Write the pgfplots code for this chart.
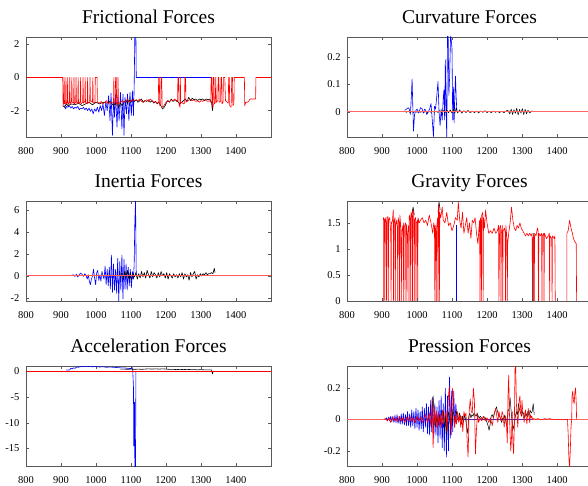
\documentclass[border=0pt]{standalone}
\usepackage{fontspec}
\setmainfont{Liberation Serif}
\usepackage{pgfplots}
\pgfplotsset{compat=1.18}
\pgfplotsset{
  panel/.style={
    scale only axis, width=245pt, height=100pt,
    anchor=south west,
    xmin=800, xmax=1500,
    xtick={800,900,...,1400},
    tick pos=both, tick align=inside,
    major tick length=3pt,
    axis line style={black!65, line width=0.8pt},
    every tick/.style={black!65},
    scaled ticks=false,
    /pgf/number format/assume math mode=true,
    /pgf/number format/1000 sep={},
    tick label style={font=\fontsize{10.5}{12}\selectfont},
    xticklabel style={yshift=-7pt},
    yticklabel style={xshift=-3.2pt},
    title style={font=\fontsize{19.5}{22}\selectfont, anchor=base, yshift=7.5pt},
    every axis plot/.append style={line width=0.6pt, line join=round},
  },
  rightpanel/.style={panel, yticklabel style={xshift=0.3pt}},
}
\begin{document}
\begin{tikzpicture}[x=1pt,y=1pt]
% ---------------- Frictional
\begin{axis}[panel, at={(26pt,348pt)}, ymin=-3.6, ymax=2.45, ytick={-2,0,2}, title={Frictional Forces}]
\addplot[blue] coordinates {(910,-1.7)(913,-1.9)(916,-1.75)(920,-1.8)(924,-1.7)(928,-1.85)(932,-1.75)(936,-1.9)(940,-1.8)(944,-1.85)(948,-1.75)(952,-1.95)(956,-1.85)(960,-1.9)(964,-1.8)(968,-1.95)(972,-1.85)(976,-2.0)(980,-1.85)(984,-2.05)(988,-1.9)(992,-2.2)(996,-1.9)(1000,-2.05)(1004,-1.8)(1008,-2.1)(1012,-1.7)(1016,-2.0)(1020,-1.6)(1024,-2.3)(1028,-1.5)(1032,-2.0)(1036,-1.1)(1040,-2.6)(1043,-0.95)(1047,-3.5)(1050,-1.3)(1053,-2.4)(1056,-1.0)(1060,-3.0)(1063,-1.2)(1066,-2.6)(1070,-0.9)(1074,-3.1)(1077,-1.0)(1080,-3.5)(1083,-1.2)(1087,-2.2)(1090,-1.0)(1094,-2.6)(1097,-0.9)(1101,-2.3)(1104,-0.8)(1107,-2.3)(1109,-0.6)(1111,2.6)(1114,2.6)(1115,0)(1330,0)};
\addplot[black] coordinates {(905,-1.7)(910,-1.8)(915,-1.6)(920,-1.7)(930,-1.6)(940,-1.65)(950,-1.55)(960,-1.7)(970,-1.6)(980,-1.5)(990,-1.65)(1000,-1.5)(1010,-1.6)(1020,-1.5)(1030,-1.55)(1040,-1.45)(1050,-1.7)(1060,-1.5)(1065,-1.8)(1070,-1.55)(1075,-1.7)(1080,-1.5)(1085,-1.4)(1090,-1.55)(1095,-1.35)(1100,-1.5)(1105,-1.3)(1110,-1.45)(1115,-1.35)(1120,-1.5)(1125,-1.4)(1130,-1.3)(1135,-1.5)(1140,-1.4)(1145,-1.45)(1150,-1.35)(1155,-1.5)(1160,-1.4)(1165,-1.55)(1170,-1.45)(1175,-1.6)(1180,-1.5)(1185,-1.7)(1190,-1.9)(1195,-1.8)(1200,-1.6)(1205,-1.4)(1210,-1.5)(1215,-1.3)(1220,-1.45)(1225,-1.35)(1230,-1.4)(1235,-1.5)(1240,-1.6)(1245,-1.5)(1250,-1.4)(1255,-1.3)(1260,-1.45)(1265,-1.2)(1270,-1.4)(1275,-1.25)(1280,-1.35)(1285,-1.3)(1290,-1.4)(1295,-1.3)(1300,-1.35)(1305,-1.3)(1310,-1.4)(1315,-1.3)(1320,-1.35)(1325,-1.3)(1330,-1.5)(1333,-2.0)(1335,-1.6)};
\addplot[red] coordinates {(800,0)(905,0)(906,-1.7)(908,-1.5)(909,0)(910,-1.6)(913,-1.55)(914,0)(915,-1.6)(918,-1.5)(919,0)(920,-1.65)(924,-1.5)(925,0)(926,-1.6)(930,-1.45)(931,0)(932,-1.5)(936,-1.55)(937,0)(938,-1.6)(942,-1.5)(943,0)(944,-1.45)(948,-1.6)(949,0)(950,-1.55)(955,-1.5)(956,0)(957,-1.6)(962,-1.5)(963,0)(964,-1.55)(968,-1.45)(969,0)(970,-1.5)(975,-1.6)(976,0)(977,-1.55)(982,-1.5)(983,0)(984,-1.4)(990,-1.5)(991,0)(992,-1.55)(997,-1.5)(998,0)(1003,0)(1004,-1.5)(1010,-1.55)(1015,-1.45)(1020,-1.6)(1025,-1.5)(1030,-1.4)(1035,-1.6)(1040,-1.5)(1045,-1.55)(1050,-1.5)(1051,0)(1052,-1.6)(1055,-1.5)(1056,0)(1058,0)(1059,-1.7)(1062,-1.5)(1063,0)(1064,-1.6)(1070,-1.5)(1075,-1.4)(1080,-1.5)(1085,-1.45)(1090,-1.3)(1095,-1.5)(1100,-1.4)(1105,-1.35)(1110,-1.4)(1115,-1.35)(1120,-1.4)(1125,-1.3)(1130,-1.45)(1135,-1.5)(1140,-1.4)(1145,-1.35)(1150,-1.45)(1155,-1.3)(1160,-1.4)(1165,-1.5)(1170,-1.45)(1175,-1.55)(1178,-1.5)(1179,0)(1181,0)(1182,-1.7)(1185,-1.6)(1186,0)(1188,0)(1189,-1.8)(1193,-1.75)(1197,-1.6)(1200,-1.5)(1205,-1.4)(1210,-1.45)(1215,-1.35)(1220,-1.4)(1225,-1.3)(1230,-1.45)(1233,-1.4)(1234,0)(1236,0)(1237,-1.6)(1240,-1.8)(1241,0)(1242,-1.55)(1245,-1.5)(1250,-1.6)(1253,-1.55)(1254,0)(1256,0)(1257,-1.5)(1262,-1.4)(1268,-1.35)(1275,-1.4)(1280,-1.35)(1285,-1.45)(1290,-1.4)(1295,-1.5)(1300,-1.4)(1305,-1.45)(1310,-1.35)(1315,-1.4)(1320,-1.45)(1325,-1.4)(1328,-1.5)(1329,0)(1331,0)(1332,-1.8)(1334,-1.6)(1335,0)(1337,0)(1338,-1.6)(1341,-1.5)(1342,0)(1344,-1.5)(1348,-1.4)(1349,0)(1351,0)(1352,-1.5)(1356,-1.45)(1357,0)(1359,0)(1360,-1.6)(1363,-1.5)(1364,0)(1368,0)(1370,-1.4)(1375,-1.5)(1378,-1.55)(1379,0)(1381,0)(1382,-1.7)(1386,-1.8)(1388,0)(1390,0)(1391,-1.7)(1394,-1.6)(1395,0)(1424,0)(1425,-1.7)(1428,-1.5)(1432,-1.5)(1436,-1.45)(1440,-1.3)(1445,-1.3)(1450,-1.3)(1456,-1.3)(1457,0)(1500,0)};
\end{axis}
% ---------------- Curvature
\begin{axis}[rightpanel, at={(347pt,348pt)}, ymin=-0.092, ymax=0.273, ytick={0,0.1,0.2}, title={Curvature Forces}]
\addplot[blue] coordinates {(965,0.005)(970,0.01)(975,0.015)(978,0.01)(981,-0.01)(984,0.06)(986,0.12)(988,0.02)(990,-0.07)(993,-0.01)(997,0.005)(1000,0.01)(1005,-0.005)(1010,0.015)(1015,0.01)(1018,-0.005)(1022,0.01)(1025,0.005)(1028,-0.01)(1032,0.0)(1036,0.01)(1040,0.03)(1043,-0.02)(1047,-0.09)(1050,0.02)(1053,0.01)(1056,0.05)(1060,0.11)(1063,0.0)(1066,-0.05)(1069,0.01)(1072,-0.03)(1075,0.05)(1077,0.08)(1079,-0.03)(1081,0.19)(1083,0.02)(1085,-0.095)(1087,0.28)(1089,0.28)(1091,0.06)(1093,0.12)(1096,0.28)(1098,0.26)(1100,0.23)(1102,-0.03)(1104,0.09)(1106,-0.04)(1108,0.06)(1110,0.13)(1112,0.05)(1114,0.0)};
\addplot[black, line width=0.5pt] coordinates {(960,0)(965,0.002)(970,-0.002)(975,0.003)(980,-0.002)(985,0.002)(990,-0.003)(995,0.002)(1000,-0.002)(1005,0.003)(1010,-0.002)(1015,0.002)(1020,-0.002)(1025,0.002)(1030,-0.003)(1035,0.002)(1040,-0.002)(1045,0.003)(1050,-0.002)(1055,0.003)(1060,-0.003)(1065,0.004)(1070,-0.003)(1075,0.005)(1080,-0.004)(1085,0.008)(1090,-0.004)(1095,0.007)(1100,-0.005)(1105,0.01)(1108,-0.006)(1112,0.014)(1116,-0.004)(1122,0.007)(1128,-0.005)(1134,0.004)(1140,-0.003)(1146,0.005)(1152,-0.004)(1158,0.003)(1164,-0.003)(1170,0.003)(1176,-0.004)(1182,0.003)(1188,-0.002)(1194,0.004)(1200,-0.003)(1206,0.002)(1212,-0.003)(1218,0.003)(1224,-0.002)(1230,0.002)(1236,-0.003)(1242,0.003)(1248,-0.004)(1254,0.003)(1260,0.005)(1265,-0.008)(1269,0.01)(1273,-0.01)(1277,0.008)(1281,-0.006)(1285,0.013)(1289,-0.012)(1293,0.009)(1297,-0.005)(1301,0.012)(1305,-0.01)(1309,0.009)(1313,-0.008)(1317,0.006)(1322,-0.004)(1328,0.003)(1335,0.0)};
\addplot[red!60, line width=1pt] coordinates {(800,0)(1500,0)};
\end{axis}
% ---------------- Inertia
\begin{axis}[panel, at={(26pt,184pt)}, ymin=-2.3, ymax=6.85, ytick={-2,0,2,4,6}, title={Inertia Forces}]
\addplot[blue] coordinates {(930,0.05)(935,0.1)(940,-0.05)(944,0.15)(948,-0.1)(952,0.1)(956,0.25)(960,0.15)(964,-0.05)(968,0.2)(972,0.0)(975,-0.3)(978,0.1)(981,-0.5)(984,-0.8)(987,-0.3)(990,0.0)(993,0.6)(996,-0.2)(999,-0.8)(1002,0.3)(1005,0.5)(1008,-0.4)(1011,0.1)(1014,-0.5)(1017,0.4)(1020,0.0)(1023,-0.3)(1026,0.9)(1029,-0.8)(1032,0.6)(1035,-0.9)(1038,0.8)(1041,-1.2)(1044,1.9)(1047,-1.5)(1050,1.1)(1053,-1.3)(1056,0.6)(1059,-1.6)(1062,1.6)(1065,-2.3)(1068,1.3)(1071,-1.3)(1074,1.9)(1077,-2.1)(1080,1.5)(1083,-1.2)(1086,1.1)(1089,-1.3)(1092,0.8)(1095,-0.9)(1098,0.6)(1101,-1.1)(1104,0.4)(1107,-0.3)(1109,1.0)(1111,5.0)(1113,6.9)(1115,0)};
\addplot[black] coordinates {(1070,0.0)(1074,0.3)(1078,-0.3)(1082,0.4)(1086,-0.2)(1090,0.5)(1094,-0.3)(1098,0.3)(1102,-0.4)(1106,0.2)(1110,-0.1)(1114,0.3)(1118,-0.3)(1122,0.2)(1126,-0.2)(1130,0.4)(1134,-0.1)(1138,0.3)(1142,-0.2)(1146,0.5)(1150,0.1)(1154,-0.2)(1158,0.4)(1162,-0.1)(1166,0.3)(1170,0.1)(1174,-0.2)(1178,0.3)(1182,-0.1)(1186,0.4)(1190,0.0)(1194,0.2)(1198,-0.2)(1202,0.3)(1206,-0.3)(1210,0.2)(1214,0.0)(1218,-0.2)(1222,0.2)(1226,-0.1)(1230,0.1)(1234,-0.2)(1238,0.2)(1242,-0.1)(1246,0.3)(1250,-0.3)(1254,0.2)(1258,-0.1)(1262,0.1)(1266,-0.4)(1270,0.3)(1274,-0.1)(1278,0.2)(1282,0.4)(1286,-0.3)(1290,0.1)(1294,-0.1)(1298,0.2)(1302,0.0)(1306,0.2)(1310,0.1)(1314,0.3)(1318,0.1)(1322,0.2)(1326,0.2)(1330,0.3)(1334,0.2)(1338,0.7)(1340,0.3)};
\addplot[red!65, line width=1pt] coordinates {(800,0)(1500,0)};
\end{axis}
% ---------------- Gravity
\begin{axis}[rightpanel, at={(347pt,184pt)}, ymin=0, ymax=1.92, ytick={0,0.5,1,1.5}, title={Gravity Forces}, axis on top]
\addplot[blue] coordinates {(1113,0)(1113,1.45)};
\addplot[black] coordinates {(983,1.6)(986,1.7)(989,1.8)(992,1.65)};
\addplot[black] coordinates {(1060,1.7)(1063,1.9)(1066,1.75)};
\addplot[black!55] coordinates {(1331,0)(1331,1.3)};
\addplot[red] coordinates {(904,0)(904,1.6)(907,1.55)(908,0)(909,1.6)(912,1.5)(913,0)(914,1.6)(917,1.62)(918,0)(919,1.55)(922,1.6)(925,1.3)(926,0)(927,1.5)(930,1.55)(932,1.75)(933,0)(934,1.5)(937,1.6)(938,0)(939,1.45)(942,1.55)(944,1.4)(945,0)(946,1.6)(949,1.5)(950,0)(951,1.65)(954,1.4)(955,0)(957,1.35)(960,1.45)(961,0)(962,1.5)(965,1.4)(966,0)(967,1.5)(970,1.45)(971,0)(973,1.3)(976,1.45)(977,0)(978,1.65)(981,1.55)(982,0)(983,1.7)(986,1.6)(987,0)(988,1.75)(991,1.7)(992,0)(993,1.55)(996,1.6)(997,0)(998,1.5)(1001,1.55)(1002,0)(1003,1.6)(1006,1.5)(1010,1.55)(1015,1.6)(1020,1.5)(1025,1.55)(1030,1.45)(1035,1.65)(1040,1.5)(1045,1.3)(1048,1.5)(1050,1.4)(1051,0)(1052,1.45)(1054,1.3)(1055,0)(1056,1.4)(1059,1.6)(1060,0)(1061,1.85)(1063,1.75)(1064,0)(1065,1.7)(1068,1.6)(1072,1.8)(1075,1.55)(1080,1.5)(1085,1.7)(1090,1.45)(1095,1.5)(1100,1.35)(1105,1.45)(1110,1.6)(1115,1.55)(1118,1.9)(1122,1.55)(1126,1.4)(1130,1.7)(1134,1.3)(1138,1.45)(1142,1.6)(1146,1.3)(1150,1.5)(1154,1.2)(1158,1.55)(1162,1.5)(1166,1.6)(1170,1.3)(1174,1.1)(1177,1.4)(1179,1.55)(1180,0)(1181,1.6)(1183,1.5)(1184,0)(1185,1.65)(1188,1.7)(1189,0)(1190,1.6)(1193,1.4)(1196,1.75)(1200,1.5)(1205,1.3)(1210,1.35)(1215,1.3)(1220,1.4)(1225,1.3)(1230,1.35)(1233,1.45)(1234,0)(1236,1.4)(1239,1.45)(1240,0)(1241,1.3)(1244,1.45)(1245,0)(1246,1.35)(1250,1.4)(1252,1.3)(1253,0)(1254,1.45)(1257,1.2)(1258,0)(1259,1.1)(1262,1.3)(1266,1.5)(1270,1.8)(1274,1.55)(1278,1.4)(1282,1.35)(1286,1.45)(1290,1.4)(1294,1.5)(1298,1.4)(1302,1.35)(1306,1.3)(1310,1.25)(1314,1.3)(1318,1.25)(1322,1.3)(1326,1.25)(1329,1.3)(1330,0)(1331,1.2)(1334,1.25)(1335,0)(1336,1.3)(1340,1.25)(1344,1.4)(1346,1.35)(1347,0)(1348,1.3)(1352,1.25)(1356,1.3)(1357,0)(1358,1.25)(1362,1.3)(1363,0)(1364,1.3)(1370,1.2)(1375,1.25)(1378,1.3)(1379,0)(1380,1.25)(1385,1.2)(1386,0)(1387,1.25)(1392,1.2)(1394,1.25)(1395,0)};
\addplot[red] coordinates {(1428,0)(1428,1.3)(1432,1.35)(1436,1.55)(1440,1.4)(1444,1.3)(1447,1.2)(1450,1.15)(1455,1.1)(1456,0)};
\end{axis}
% ---------------- Acceleration
\begin{axis}[panel, at={(26pt,19pt)}, ymin=-18.4, ymax=1.05, ytick={-15,-10,-5,0}, title={Acceleration Forces}]
\addplot[blue] coordinates {(915,0.3)(920,0.25)(925,0.3)(928,0.6)(932,0.5)(936,0.7)(940,0.6)(945,0.85)(950,0.8)(955,0.95)(960,0.9)(965,0.95)(970,1.0)(980,0.95)(990,0.9)(1000,0.95)(1010,0.85)(1020,0.9)(1030,0.8)(1040,0.85)(1050,0.8)(1060,0.75)(1070,0.7)(1080,0.7)(1090,0.6)(1100,0.55)(1103,0.8)(1105,0.2)(1107,-3)(1108,-14.5)(1110,-6)(1111,-18.6)(1113,-18.6)(1114,0)};
\addplot[black] coordinates {(1070,0.45)(1080,0.45)(1090,0.4)(1100,0.45)(1110,0.4)(1120,0.45)(1130,0.4)(1140,0.45)(1150,0.5)(1160,0.45)(1170,0.5)(1180,0.45)(1190,0.5)(1200,0.45)(1210,0.4)(1220,0.4)(1230,0.35)(1240,0.4)(1250,0.35)(1260,0.4)(1270,0.35)(1280,0.35)(1290,0.3)(1300,0.35)(1310,0.3)(1320,0.3)(1330,0.3)(1333,-0.5)(1335,0.1)};
\addplot[red, line width=1pt] coordinates {(800,0)(1500,0)};
\end{axis}
% ---------------- Pression
\begin{axis}[rightpanel, at={(347pt,19pt)}, ymin=-0.297, ymax=0.34, ytick={-0.2,0,0.2}, title={Pression Forces}]
\addplot[red!60, line width=0.8pt] coordinates {(800,0)(1500,0)};
\addplot[blue] coordinates {(910,0.0)(913,0.01)(916,-0.01)(919,0.015)(922,-0.01)(925,0.02)(928,-0.015)(931,0.02)(934,-0.02)(937,0.025)(940,-0.02)(943,0.03)(946,-0.025)(949,0.02)(952,-0.03)(955,0.035)(958,-0.03)(961,0.04)(964,-0.035)(967,0.03)(970,-0.04)(973,0.05)(976,-0.04)(979,0.035)(982,-0.05)(985,0.06)(988,-0.04)(991,0.05)(994,-0.06)(997,0.07)(1000,-0.05)(1003,0.06)(1006,-0.07)(1009,0.05)(1012,-0.06)(1015,0.08)(1018,-0.08)(1021,0.07)(1024,-0.05)(1027,0.1)(1030,-0.09)(1033,0.08)(1036,-0.1)(1039,0.12)(1042,-0.08)(1045,0.14)(1048,-0.12)(1051,0.1)(1054,-0.1)(1057,0.08)(1060,-0.15)(1063,0.12)(1066,-0.12)(1069,0.15)(1072,-0.18)(1075,0.1)(1078,-0.2)(1081,0.2)(1084,-0.24)(1087,0.15)(1090,-0.2)(1093,0.27)(1096,-0.12)(1099,0.18)(1102,-0.08)(1105,0.18)(1108,-0.05)(1111,0.1)(1114,0)(1330,0)};
\addplot[black, line width=0.5pt] coordinates {(1040,0.0)(1043,0.05)(1046,0.15)(1049,0.03)(1052,-0.05)(1055,0.02)(1058,-0.03)(1061,0.04)(1064,-0.02)(1067,0.03)(1070,-0.05)(1073,0.02)(1076,0.05)(1079,-0.08)(1082,0.03)(1085,-0.1)(1088,0.02)(1091,0.05)(1094,-0.03)(1097,0.02)(1100,-0.02)(1103,0.06)(1106,0.02)(1109,-0.02)(1112,0.05)(1115,0.03)(1118,-0.01)(1121,0.04)(1124,0.02)(1127,-0.03)(1130,0.02)(1133,-0.02)(1136,0.03)(1139,0.0)(1142,-0.05)(1145,-0.09)(1148,0.02)(1151,0.04)(1154,0.01)(1157,0.03)(1160,0.02)(1163,0.04)(1166,0.03)(1169,0.02)(1172,0.04)(1175,0.02)(1178,0.01)(1181,0.02)(1184,0.01)(1187,0.0)(1190,0.02)(1195,0.01)(1200,-0.02)(1203,-0.04)(1206,-0.07)(1209,-0.03)(1212,0.02)(1215,0.03)(1218,0.01)(1221,0.04)(1224,0.06)(1227,0.08)(1230,0.05)(1233,0.03)(1236,0.02)(1239,0.0)(1242,-0.02)(1245,0.01)(1248,0.0)(1251,0.03)(1254,-0.02)(1257,-0.04)(1260,0.05)(1263,0.07)(1266,0.14)(1269,0.05)(1272,-0.02)(1275,-0.06)(1278,-0.03)(1281,0.02)(1284,0.05)(1287,0.03)(1290,0.1)(1293,0.06)(1296,0.04)(1299,0.02)(1302,0.05)(1305,0.03)(1308,0.01)(1311,0.04)(1314,0.02)(1317,0.05)(1320,0.02)(1323,0.06)(1326,0.04)(1329,0.05)(1332,0.1)(1335,0.03)};
\addplot[red] coordinates {(905,0)(910,0.005)(915,-0.01)(920,0.01)(925,-0.02)(930,0.015)(935,-0.01)(940,0.01)(945,-0.015)(950,0.02)(955,-0.01)(960,0.01)(965,-0.02)(970,0.015)(975,-0.01)(980,0.02)(985,-0.015)(990,0.01)(995,-0.02)(1000,0.02)(1005,-0.01)(1010,0.015)(1015,-0.02)(1020,0.01)(1025,0.03)(1030,-0.02)(1035,0.04)(1040,-0.05)(1043,0.13)(1046,-0.18)(1049,0.08)(1052,-0.03)(1055,0.05)(1058,-0.06)(1061,0.04)(1064,-0.04)(1067,0.03)(1070,-0.05)(1073,0.06)(1076,-0.03)(1080,0.02)(1083,0.05)(1086,-0.08)(1089,0.12)(1092,0.21)(1095,0.05)(1098,-0.1)(1101,0.2)(1104,0.12)(1107,-0.05)(1110,0.02)(1113,-0.03)(1116,0.05)(1119,-0.02)(1122,0.03)(1125,-0.05)(1128,0.02)(1131,-0.08)(1134,0.05)(1137,0.02)(1140,0.04)(1143,-0.12)(1146,-0.24)(1149,0.05)(1152,0.13)(1155,0.05)(1158,0.04)(1161,0.2)(1164,0.12)(1167,-0.22)(1170,-0.06)(1173,0.03)(1176,-0.02)(1180,0.01)(1185,-0.01)(1190,0.02)(1195,-0.01)(1200,0.01)(1205,-0.02)(1210,0.01)(1215,-0.04)(1220,0.03)(1225,0.07)(1228,0.02)(1231,-0.02)(1234,0.05)(1237,0.02)(1240,-0.01)(1243,0.05)(1246,0.03)(1249,-0.05)(1252,0.02)(1255,0.0)(1258,-0.15)(1260,0.15)(1262,0.28)(1264,0.05)(1266,-0.1)(1268,-0.2)(1270,-0.12)(1272,0.05)(1274,-0.15)(1276,-0.22)(1278,-0.05)(1280,0.32)(1282,0.34)(1284,0.1)(1286,0.02)(1288,-0.05)(1290,0.05)(1292,0.12)(1294,0.15)(1296,0.07)(1298,0.02)(1300,0.12)(1302,0.05)(1304,0.02)(1306,-0.02)(1308,0.04)(1310,0.06)(1312,0.01)(1314,-0.03)(1316,0.03)(1318,0.07)(1320,0.02)(1322,-0.02)(1324,0.03)(1326,0.01)(1328,0.02)(1330,0.0)(1333,0.005)(1340,0.0)(1345,0.005)(1350,0.0)(1360,0.0)(1365,0.005)(1370,0.0)(1380,0.005)(1385,0.0)(1430,0)(1432,-0.1)(1434,-0.25)(1436,-0.3)(1438,-0.2)(1440,-0.05)(1442,0.0)(1443,0.15)(1445,0.18)(1447,0.12)(1449,0.1)(1451,0.17)(1453,0.2)(1455,0.1)(1456,0)};
\end{axis}
\pgfresetboundingbox
\useasboundingbox (0pt,0pt) rectangle (588pt,485pt);
\end{tikzpicture}
\end{document}
